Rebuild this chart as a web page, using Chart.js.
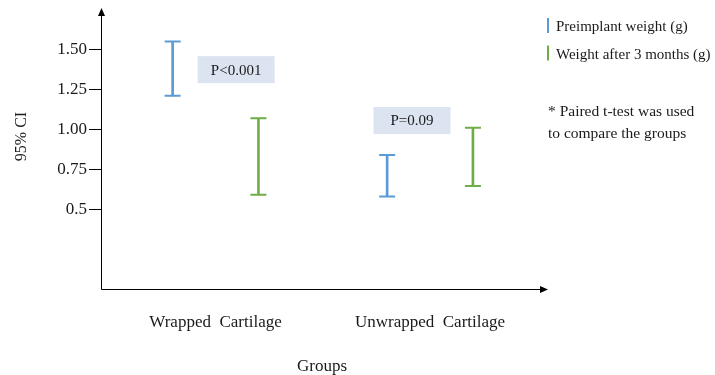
<!DOCTYPE html>
<html>
<head>
<meta charset="utf-8">
<script src="https://cdn.jsdelivr.net/npm/chart.js@4/dist/chart.umd.min.js"></script>
<style>
  html, body { margin: 0; padding: 0; background: #ffffff; }
  #wrap { width: 715px; height: 375px; }
</style>
</head>
<body>
<div id="wrap"><canvas id="c" width="715" height="375"></canvas></div>
<script>
// Groups on the x axis
const groups = ['Wrapped  Cartilage', 'Unwrapped  Cartilage'];

// 95% confidence intervals (g)
const preimplantLow  = [1.21, 0.58];
const preimplantHigh = [1.55, 0.84];
const afterLow       = [0.59, 0.645];
const afterHigh      = [1.07, 1.01];

const seriesNames = ['Preimplant weight (g)', 'Weight after 3 months (g)'];

// y axis ticks and their printed labels
const yTickValues = [0.5, 0.75, 1.0, 1.25, 1.5];
const yTickLabels = ['0.5', '0.75', '1.00', '1.25', '1.50'];

// p-values printed above each group
const pValues = ['P<0.001', 'P=0.09'];

const noteLines = ['* Paired t-test was used', 'to compare the groups'];

const BLUE = '#5b9bd5';
const GREEN = '#70ad47';
const INK = '#1a1a1a';
const SERIF = '"Liberation Serif", "Times New Roman", serif';

// horizontal shift of each series from its group position (x-axis units)
const SERIES_SHIFT = 0.2;
// where each p-value box sits, in axis units
const pBoxAnchors = [{ x: 1.096, y: 1.374 }, { x: 1.916, y: 1.055 }];

function intervalData(lows, highs, shift) {
  return groups.map((g, i) => ({ x: i + 1 + shift, y: [lows[i], highs[i]] }));
}

const errorBarPlugin = {
  id: 'errorBars',
  beforeDatasetsDraw(chart) {
    const { ctx, scales } = chart;
    ctx.save();
    // p-value boxes
    ctx.font = '15px ' + SERIF;
    ctx.textAlign = 'center';
    ctx.textBaseline = 'middle';
    pValues.forEach((txt, i) => {
      const cx = scales.x.getPixelForValue(pBoxAnchors[i].x);
      const cy = scales.y.getPixelForValue(pBoxAnchors[i].y);
      ctx.fillStyle = '#dce3f1';
      ctx.fillRect(cx - 38.5, cy - 13.5, 77, 27);
      ctx.fillStyle = INK;
      ctx.fillText(txt, cx, cy + 1);
    });
    ctx.restore();
  },
  afterDatasetsDraw(chart) {
    const { ctx } = chart;
    ctx.save();
    ctx.lineWidth = 2;
    chart.data.datasets.forEach((ds, di) => {
      const meta = chart.getDatasetMeta(di);
      ctx.strokeStyle = ds.backgroundColor;
      meta.data.forEach((bar) => {
        const x = bar.x;
        ctx.beginPath();
        ctx.moveTo(x - 8, bar.y); ctx.lineTo(x + 8, bar.y);
        ctx.moveTo(x - 8, bar.base); ctx.lineTo(x + 8, bar.base);
        ctx.stroke();
      });
    });
    ctx.restore();
  },
  afterDraw(chart) {
    const { ctx, chartArea } = chart;
    const L = chartArea.left, B = chartArea.bottom, T = chartArea.top, R = chartArea.right;
    ctx.save();
    // axis lines with arrow heads
    ctx.strokeStyle = '#000';
    ctx.fillStyle = '#000';
    ctx.lineWidth = 1;
    ctx.beginPath();
    ctx.moveTo(L + 0.5, B + 0.5); ctx.lineTo(L + 0.5, T + 6);
    ctx.moveTo(L + 0.5, B + 0.5); ctx.lineTo(R - 6, B + 0.5);
    ctx.stroke();
    ctx.beginPath();
    ctx.moveTo(L + 0.5, T); ctx.lineTo(L - 3, T + 8); ctx.lineTo(L + 4, T + 8); ctx.closePath();
    ctx.fill();
    ctx.beginPath();
    ctx.moveTo(R, B + 0.5); ctx.lineTo(R - 8, B - 3); ctx.lineTo(R - 8, B + 4); ctx.closePath();
    ctx.fill();

    // axis titles
    ctx.fillStyle = INK;
    ctx.font = '17px ' + SERIF;
    ctx.textAlign = 'center';
    ctx.textBaseline = 'middle';
    ctx.fillText('Groups', 322, 367);
    ctx.font = '16px ' + SERIF;
    ctx.save();
    ctx.translate(21.5, 136.5);
    ctx.rotate(-Math.PI / 2);
    ctx.fillText('95% CI', 0, 0);
    ctx.restore();

    // legend: short vertical marker + label
    ctx.font = '15px ' + SERIF;
    ctx.textAlign = 'left';
    ctx.textBaseline = 'alphabetic';
    chart.data.datasets.forEach((ds, i) => {
      const baseY = 31 + i * 27.5;
      ctx.fillStyle = ds.backgroundColor;
      ctx.fillRect(547, baseY - 13, 2, 15);
      ctx.fillStyle = INK;
      ctx.fillText(ds.label, 556, baseY);
    });

    // footnote
    ctx.font = '15.5px ' + SERIF;
    noteLines.forEach((line, i) => {
      ctx.fillText(line, 548, 116 + i * 22);
    });
    ctx.restore();
  }
};

new Chart(document.getElementById('c'), {
  type: 'bar',
  data: {
    datasets: [
      {
        label: seriesNames[0],
        data: intervalData(preimplantLow, preimplantHigh, -SERIES_SHIFT),
        backgroundColor: BLUE,
        borderWidth: 0
      },
      {
        label: seriesNames[1],
        data: intervalData(afterLow, afterHigh, SERIES_SHIFT),
        backgroundColor: GREEN,
        borderWidth: 0
      }
    ]
  },
  options: {
    responsive: false,
    animation: false,
    events: [],
    grouped: false,
    barThickness: 2,
    layout: { padding: { left: 0, top: 8, right: 167, bottom: 0 } },
    plugins: { legend: { display: false }, tooltip: { enabled: false } },
    scales: {
      x: {
        type: 'linear',
        min: 0.466,
        max: 2.55,
        offset: false,
        grid: { display: false, drawTicks: false, offset: false },
        border: { display: false },
        afterBuildTicks(scale) { scale.ticks = groups.map((g, i) => ({ value: i + 1 })); },
        ticks: {
          autoSkip: false,
          maxRotation: 0,
          padding: 23,
          color: INK,
          font: { family: SERIF, size: 17 },
          callback: (v, i) => groups[i]
        },
        afterFit(scale) {
          scale.height = 86;
          scale.paddingLeft = 0; scale.paddingRight = 0;
        }
      },
      y: {
        min: 0,
        max: 1.76,
        grid: { display: true, drawOnChartArea: false, drawTicks: true, tickLength: 12, color: '#000', lineWidth: 1 },
        border: { display: false },
        afterBuildTicks(scale) { scale.ticks = yTickValues.map(v => ({ value: v })); },
        ticks: {
          padding: 2,
          color: INK,
          font: { family: SERIF, size: 17 },
          callback: (v) => yTickLabels[yTickValues.indexOf(v)]
        },
        afterFit(scale) {
          scale.width = 101;
          scale.paddingTop = 0; scale.paddingBottom = 0;
        }
      }
    }
  },
  plugins: [errorBarPlugin]
});
</script>
</body>
</html>
